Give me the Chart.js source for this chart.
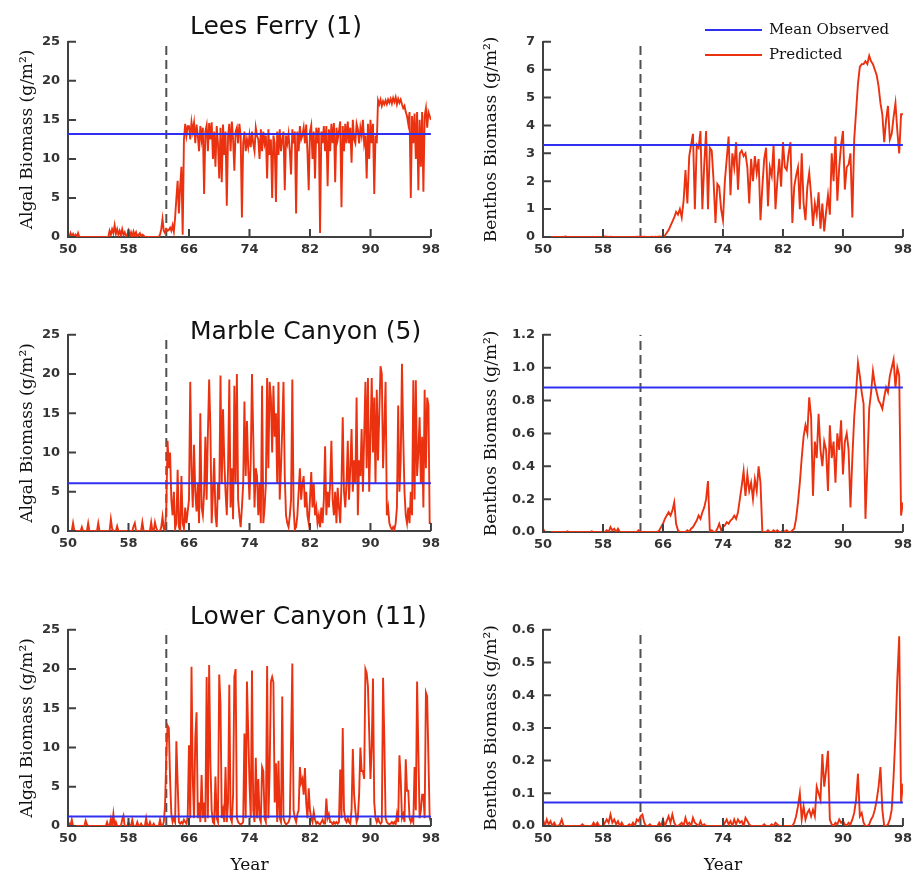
<!DOCTYPE html>
<html>
<head>
<meta charset="utf-8">
<title>Algal and benthos biomass</title>
<script src="https://cdn.jsdelivr.net/npm/chart.js@4.4.0/dist/chart.umd.min.js"></script>
<style>
  html, body { margin: 0; padding: 0; background: #fff; overflow: hidden; }
  #page { position: relative; width: 914px; height: 875px; overflow: hidden; }
  #page canvas { position: absolute; }
  .title { position: absolute; font: 25px 'DejaVu Sans', sans-serif; color: #111; white-space: nowrap; line-height: 1; }
  .swatch { position: absolute; left: 705px; width: 57px; height: 2px; }
  .legtext { position: absolute; left: 769px; font: 15px 'DejaVu Serif', serif; color: #111; white-space: nowrap; line-height: 1; }
</style>
</head>
<body>
<div id="page">
  <canvas id="c1"></canvas>
  <canvas id="c2"></canvas>
  <canvas id="c3"></canvas>
  <canvas id="c4"></canvas>
  <canvas id="c5"></canvas>
  <canvas id="c6"></canvas>
  <div class="title" style="left:190px; top:13px;">Lees Ferry (1)</div>
  <div class="title" style="left:190px; top:318px;">Marble Canyon (5)</div>
  <div class="title" style="left:190px; top:603px;">Lower Canyon (11)</div>
  <div class="swatch" style="top:29px; background:#3030f0;"></div>
  <div class="legtext" style="top:22px;">Mean Observed</div>
  <div class="swatch" style="top:54px; background:#eb3210;"></div>
  <div class="legtext" style="top:47px;">Predicted</div>
</div>
<script>
// year ticks and dam closure
const xTicks = [50, 58, 66, 74, 82, 90, 98];
const damYear = 63;

const algalTicks = [0, 5, 10, 15, 20, 25];
const leesBenthosTicks = [0, 1, 2, 3, 4, 5, 6, 7];
const marbleBenthosTicks = [0, 0.2, 0.4, 0.6, 0.8, 1.0, 1.2];
const lowerBenthosTicks = [0, 0.1, 0.2, 0.3, 0.4, 0.5, 0.6];

// mean observed biomass per site
const leesAlgalMean = 13.2;
const leesBenthosMean = 3.3;
const marbleAlgalMean = 6.1;
const marbleBenthosMean = 0.88;
const lowerAlgalMean = 1.2;
const lowerBenthosMean = 0.072;

// predicted algal biomass, 6 samples per year, 1950 -> 1998
const leesAlgal = [
  0.3, 0, 0.5, 0.1, 0.4, 0,
  0.3, 0, 0.5, 0, 0, 0,
  0, 0, 0, 0, 0, 0,
  0, 0, 0, 0, 0, 0,
  0, 0, 0, 0, 0, 0,
  0, 0, 0, 0.8, 0.3, 1.0,
  0.5, 1.5, 0.4, 1.0, 0.3, 0.8,
  0.2, 1.0, 0.3, 0.6, 0, 0.3,
  0.8, 0.1, 0.6, 0, 0.7, 0.2,
  0.6, 0, 0.3, 0.5, 0, 0.3,
  0.2, 0, 0, 0, 0, 0,
  0, 0, 0, 0, 0, 0,
  0, 0.3, 1.0, 2.3, 0.8, 0.5,
  1.0, 0.8, 0.9, 1.2, 0.8, 1.5,
  0.7, 2.5, 5.0, 7.2, 3.0, 6.5,
  9.0, 0.3, 12.5, 14.5, 13, 14.2,
  14.2, 12.5, 14.7, 13.5, 14.6, 12,
  14.4, 13, 11, 14.2, 12.5, 14,
  5.5, 13.5, 14.3, 11, 14.6, 12.5,
  14.7, 10, 13.5, 9, 14.2, 12,
  7.5, 14, 7, 14.4, 10.5, 13.5,
  4, 13, 14.5, 11, 14.8, 12.5,
  8.5, 13.5, 14, 12, 14.5, 13,
  2.5, 12, 13.5, 11, 12.5, 11.5,
  13, 11.5, 13.5, 12, 11, 14,
  13, 12.5, 10, 13.8, 11, 13.5,
  12, 13, 7.5, 13.8, 10.5, 12.5,
  5, 13, 12, 4.5, 13.5, 10.5,
  13.8, 11, 12.5, 13.5, 6, 13,
  12, 13.2, 11, 8, 13.8, 12,
  13.5, 3, 13.5, 11, 14.2, 12.5,
  13, 14, 12, 14.4, 11, 6,
  13.5, 14.3, 10, 13.5, 7.5, 14,
  12, 14, 0.5, 13.5, 12, 14.2,
  11, 14.2, 6.5, 13.8, 11, 14.5,
  12, 14.6, 7, 14, 12.5, 13.5,
  14.8, 3.8, 14.2, 11, 14.5, 12,
  14.8, 12, 14, 9.5, 15, 12.5,
  12, 14.5, 13.8, 12, 14, 13,
  15, 12, 13, 7.5, 14.5, 10,
  15, 12, 14.5, 5.5, 13, 12,
  17.5, 17, 17.6, 16.8, 17.4, 17,
  17.5, 17, 17.6, 17.2, 17.7, 17.1,
  17.8, 17.3, 17.9, 17, 17.7, 17.2,
  17.6, 17, 16.5, 16.8, 16, 15.5,
  14.5, 16, 5, 15.5, 12, 15.8,
  10, 16, 6, 15, 9, 16,
  5.8, 15.5, 16.5, 14, 16, 15.5,
  15
];

const marbleAlgal = [
  0, 0, 0, 0, 1.0, 0,
  0, 0, 0, 0, 0, 0.5,
  0, 0, 0, 0, 1.0, 0,
  0, 0, 0, 0, 0, 0,
  1.0, 0, 0, 0, 0, 0,
  0, 0, 0, 0, 1.5, 0.3,
  0, 0, 0, 0.6, 0, 0,
  0, 0, 0, 0, 0, 0,
  0, 0, 0, 0, 0.6, 1.0,
  0, 0, 0, 0, 0, 1.1,
  0, 0, 0, 0, 0, 0,
  1.1, 0, 0, 1.1, 0.4, 0,
  0, 0, 0.5, 1.8, 0.3, 0,
  3, 11.5, 8, 10, 4, 2,
  5, 0.3, 1, 7.8, 0.5, 0,
  7, 1, 0.3, 3, 1, 2.5,
  4, 19, 8, 3, 11, 5,
  2.5, 6, 1, 15, 3, 2,
  5, 12, 4, 12.5, 19.3, 13,
  1, 5, 9.3, 2, 0.5, 6,
  4, 19.8, 6, 15.5, 9, 5,
  2, 8, 19.3, 3, 8, 1.5,
  18.5, 6, 20, 4, 2, 0.5,
  3, 6, 16.5, 7, 14, 8,
  4, 9, 20, 12, 3, 8,
  7, 2, 6, 1, 18.5, 1,
  3, 6, 19.5, 8, 19, 17,
  10, 18.5, 12, 15, 6, 19,
  4, 8, 13, 19, 7, 2,
  1, 0.5, 2, 4, 19.3, 3,
  0.2, 0.5, 2, 5, 8, 4,
  6, 7, 3, 5, 2, 1,
  4, 7.5, 3, 6, 2, 3,
  1, 2, 0.5, 3, 1, 4,
  10.8, 2, 5, 3, 6, 11.5,
  4, 2, 5, 1, 5.5, 3,
  1, 6, 14.5, 5, 3, 6,
  11.5, 4, 8, 13, 5, 9,
  6, 17, 2, 9, 7, 13,
  5, 12, 19, 8, 19.5, 5,
  12, 19.5, 10, 17, 6, 18,
  9, 15, 21, 20, 8, 13,
  19, 2, 3, 1, 0.5, 0.2,
  0.5, 0.2, 1, 3, 16, 5,
  9, 21.3, 12, 5, 2, 1,
  3, 1, 5, 2, 19.2, 4,
  19.2, 7, 10, 14.5, 6, 12,
  3, 18, 8, 17, 16, 1,
  1
];

const lowerAlgal = [
  0, 0.3, 0, 0.8, 0, 0,
  0, 0, 0, 0, 0, 0,
  0, 0, 0.7, 0.2, 0, 0,
  0, 0, 0, 0, 0, 0,
  0, 0, 0, 0, 0, 0,
  0, 0.5, 0, 0, 0.9, 0,
  1.5, 0, 0.5, 0, 0, 0,
  0, 0.8, 1.3, 0, 0, 0,
  0.5, 0, 0, 0.8, 0, 0,
  0, 0.5, 0, 0, 0.3, 0,
  0, 0, 1.0, 0, 0, 0.5,
  0, 0, 0.3, 0, 0, 0,
  0, 0.8, 0, 0, 0.5, 2.5,
  9, 12.8, 12.5, 6, 1.5, 0.5,
  1.0, 0.5, 10.8, 5.5, 0.5, 0.3,
  0.5, 0.3, 0.8, 0.5, 0.3, 1.2,
  10.3, 1, 20.3, 6, 1, 11.2,
  14.5, 1, 3, 0.5, 6.5, 1,
  3, 0.5, 19, 1, 20.5, 8,
  2, 0.5, 0.3, 6.3, 1, 0.5,
  19.3, 15.5, 1, 2, 0.5, 7.5,
  0.5, 3, 18, 1, 0.5, 4,
  19, 20, 1, 0.5, 0.3, 0.2,
  0.3, 0.5, 11.8, 1, 18.4, 12,
  5.5, 1, 19.8, 2, 0.5, 8.7,
  1, 6, 1, 0.5, 7.5, 7,
  1, 0.5, 20.4, 1, 7, 18.4,
  19, 18.3, 3, 8, 0.5, 8.3,
  1, 0.5, 16.5, 1, 0.5, 0.2,
  0.3, 0.5, 1, 10.5, 20.7, 2,
  1, 0.5, 1.5, 2, 7.5, 5.5,
  6, 4, 7.4, 3, 1, 4.8,
  2, 1, 0.5, 1.8, 0.8, 0.3,
  0.5, 0.3, 0.2, 0.5, 0.8, 0.3,
  0.3, 3.5, 1, 1.5, 0.5, 0.5,
  0.2, 0.5, 0.3, 0.5, 0.3, 0.5,
  7.2, 1, 12.5, 2, 0.8, 0.5,
  1, 0.5, 0.3, 2, 9.8, 4,
  2, 0.5, 1, 4, 10, 7,
  7, 6, 20, 19.5, 17.8, 12,
  6, 10, 18.8, 3, 1, 0.5,
  1, 0.5, 0.3, 0.5, 18.9, 11,
  1, 0.5, 0.3, 0.2, 0.3, 0.5,
  0.3, 0.5, 0.2, 1.5, 0.5, 9,
  6, 1, 1.5, 0.5, 8.5, 4.5,
  4.5, 1, 0.5, 1, 0.5, 7.5,
  2, 18.4, 9.5, 1, 2, 4,
  4, 1, 17, 16.5, 8.5, 1,
  0.5
];

// predicted benthos biomass, 4 samples per year, 1950 -> 1998
const leesBenthos = [
  0, 0, 0, 0,
  0, 0, 0, 0,
  0, 0, 0, 0,
  0.02, 0, 0, 0,
  0, 0, 0, 0,
  0, 0, 0, 0,
  0, 0, 0, 0,
  0, 0, 0, 0,
  0, 0.02, 0.01, 0,
  0.01, 0, 0, 0,
  0, 0, 0, 0,
  0, 0, 0, 0,
  0, 0, 0.01, 0,
  0.02, 0, 0.01, 0,
  0, 0, 0.01, 0,
  0.01, 0, 0.02, 0.01,
  0.02, 0.05, 0.15, 0.25,
  0.4, 0.55, 0.7, 0.9,
  0.8, 1.0, 0.7, 1.3,
  2.4, 1.2, 2.9, 3.3,
  3.7, 1.0, 3.3, 3.2,
  3.8, 1.0, 2.6, 3.8,
  1.0, 3.2, 3.1, 2.0,
  0.5, 1.9, 1.8, 1.0,
  0.6, 2.0, 2.8, 3.6,
  1.5, 3.0, 2.5, 3.4,
  1.7, 3.0, 3.1, 2.9,
  3.0, 2.5, 1.2, 2.8,
  2.0, 2.9, 2.3, 2.8,
  0.6, 1.8, 2.8, 3.2,
  1.1, 2.5, 2.2, 3.3,
  1.0, 2.0, 2.8, 1.8,
  3.4, 2.5, 2.4, 3.0,
  3.4, 0.5, 1.8, 2.2,
  2.5, 1.0, 3.0, 1.2,
  0.6, 1.8, 2.3, 1.5,
  0.4, 1.2, 0.8, 1.6,
  0.3, 1.2, 0.2, 0.9,
  1.5, 0.8, 3.0, 2.0,
  3.6, 1.3, 2.5, 3.3,
  3.8, 1.7, 2.5, 2.6,
  3.0, 0.7, 3.5, 4.5,
  5.5, 6.1, 6.2, 6.2,
  6.3, 6.2, 6.5, 6.3,
  6.2, 6.0, 5.8, 5.4,
  4.8, 4.4, 3.4, 4.2,
  4.7, 3.5, 3.7, 4.3,
  4.8, 3.8, 3.0, 4.4,
  4.4
];

const marbleBenthos = [
  0.02, 0, 0, 0,
  0, 0, 0, 0,
  0, 0, 0, 0,
  0, 0.005, 0, 0,
  0, 0, 0, 0,
  0, 0, 0, 0,
  0, 0, 0.005, 0,
  0, 0, 0, 0,
  0, 0, 0.01, 0,
  0.03, 0.01, 0.02, 0,
  0.02, 0, 0, 0,
  0, 0, 0, 0,
  0, 0, 0, 0.01,
  0, 0, 0, 0,
  0, 0, 0, 0,
  0, 0, 0.01, 0.03,
  0.05, 0.08, 0.1, 0.12,
  0.1, 0.13, 0.18, 0.05,
  0.01, 0, 0, 0,
  0, 0.01, 0, 0.02,
  0.03, 0.05, 0.07, 0.1,
  0.08, 0.12, 0.15, 0.2,
  0.31, 0, 0.01, 0,
  0, 0.02, 0.05, 0.01,
  0.03, 0.04, 0.06, 0.05,
  0.07, 0.08, 0.1, 0.08,
  0.12, 0.2, 0.28, 0.37,
  0.22, 0.35, 0.25, 0.3,
  0.2, 0.32, 0.25, 0.4,
  0.3, 0, 0, 0,
  0.01, 0, 0, 0.01,
  0, 0.01, 0, 0,
  0.01, 0, 0.01, 0,
  0, 0.01, 0.02, 0.08,
  0.18, 0.3, 0.45, 0.58,
  0.65, 0.6, 0.82, 0.7,
  0.22, 0.55, 0.45, 0.72,
  0.5, 0.4, 0.55, 0.5,
  0.25, 0.65, 0.45, 0.55,
  0.3, 0.6, 0.5, 0.68,
  0.35, 0.55, 0.6, 0.5,
  0.15, 0.45, 0.7, 0.85,
  1.03, 0.95, 0.85, 0.78,
  0.08, 0.4, 0.75, 0.85,
  0.98, 0.9, 0.85, 0.8,
  0.78, 0.75, 0.82, 0.88,
  0.85, 0.95, 1.0, 1.05,
  0.88, 1.0, 0.95, 0.1,
  0.18
];

const lowerBenthos = [
  0.02, 0, 0.02, 0.005,
  0.015, 0, 0.01, 0,
  0, 0.005, 0.02, 0,
  0, 0, 0, 0,
  0, 0, 0, 0,
  0, 0.005, 0, 0,
  0, 0, 0, 0.01,
  0, 0.01, 0, 0,
  0, 0.01, 0.02, 0.01,
  0.035, 0.01, 0.02, 0.005,
  0.015, 0, 0.01, 0,
  0, 0, 0.005, 0,
  0.01, 0, 0.02, 0.015,
  0.03, 0.035, 0.01, 0,
  0, 0.005, 0, 0,
  0, 0, 0.01, 0,
  0.02, 0, 0.015, 0.03,
  0.01, 0.035, 0.01, 0,
  0, 0.005, 0.01, 0,
  0.025, 0.005, 0.01, 0,
  0.025, 0.01, 0.005, 0,
  0.015, 0, 0.005, 0,
  0, 0, 0, 0,
  0, 0, 0, 0,
  0, 0.01, 0.02, 0.005,
  0.015, 0, 0.02, 0.005,
  0.02, 0.01, 0.015, 0,
  0.025, 0.015, 0.005, 0,
  0, 0, 0, 0,
  0, 0, 0.005, 0,
  0, 0, 0.005, 0,
  0.01, 0.005, 0, 0,
  0, 0, 0, 0,
  0, 0, 0.01, 0.03,
  0.06, 0.1, 0.02, 0.06,
  0.02, 0.04, 0.05, 0.03,
  0.05, 0.03, 0.12, 0.1,
  0.08, 0.22, 0.12, 0.17,
  0.23, 0.02, 0.005, 0,
  0.01, 0.005, 0.02, 0.01,
  0.015, 0.005, 0, 0.01,
  0.005, 0.02, 0.04, 0.08,
  0.16, 0.03, 0.04, 0.01,
  0, 0, 0.005, 0.02,
  0.03, 0.05, 0.08, 0.12,
  0.18, 0.05, 0, 0,
  0.005, 0.02, 0.05, 0.15,
  0.28, 0.45, 0.58, 0.07,
  0.13
];

const algalYears = leesAlgal.map((_, i) => 50 + i / 6);
const benthosYears = leesBenthos.map((_, i) => 50 + i / 4);

const axisColor = '#404040';
const tickFont = { family: 'DejaVu Sans', size: 13, weight: 'bold' };
const serifFont = { family: 'DejaVu Serif', size: 17 };

// short tick marks pointing into the plot
const innerTicks = {
    id: 'innerTicks',
    afterDraw(chart) {
        const { ctx, chartArea: a, scales: { x, y } } = chart;
        ctx.save();
        ctx.strokeStyle = axisColor;
        ctx.lineWidth = 2;
        ctx.beginPath();
        x.ticks.forEach(t => {
            const px = x.getPixelForValue(t.value);
            ctx.moveTo(px, a.bottom);
            ctx.lineTo(px, a.bottom - 8);
        });
        y.ticks.forEach(t => {
            const py = y.getPixelForValue(t.value);
            ctx.moveTo(a.left, py);
            ctx.lineTo(a.left + 8, py);
        });
        ctx.stroke();
        ctx.restore();
    }
};

const panels = [
    { id: 'c1', left: 0, top: 26, w: 445, h: 241, yW: 68, xH: 30, padR: 12, titlePad: 17,
      years: algalYears, values: leesAlgal, mean: leesAlgalMean, ticks: algalTicks, dec: 0, yTitle: 'Algal Biomass (g/m²)' },
    { id: 'c2', left: 457, top: 26, w: 460, h: 241, yW: 86, xH: 30, padR: 10, titlePad: 24,
      years: benthosYears, values: leesBenthos, mean: leesBenthosMean, ticks: leesBenthosTicks, dec: 0, yTitle: 'Benthos Biomass (g/m²)' },
    { id: 'c3', left: 0, top: 319, w: 445, h: 242, yW: 68, xH: 30, padR: 12, titlePad: 17,
      years: algalYears, values: marbleAlgal, mean: marbleAlgalMean, ticks: algalTicks, dec: 0, yTitle: 'Algal Biomass (g/m²)' },
    { id: 'c4', left: 457, top: 319, w: 460, h: 243, yW: 86, xH: 30, padR: 10, titlePad: 24,
      years: benthosYears, values: marbleBenthos, mean: marbleBenthosMean, ticks: marbleBenthosTicks, dec: 1, yTitle: 'Benthos Biomass (g/m²)' },
    { id: 'c5', left: 0, top: 614, w: 445, h: 274, yW: 68, xH: 62, padR: 12, titlePad: 17, xTitle: 'Year',
      years: algalYears, values: lowerAlgal, mean: lowerAlgalMean, ticks: algalTicks, dec: 0, yTitle: 'Algal Biomass (g/m²)' },
    { id: 'c6', left: 457, top: 614, w: 460, h: 274, yW: 86, xH: 62, padR: 10, titlePad: 24, xTitle: 'Year',
      years: benthosYears, values: lowerBenthos, mean: lowerBenthosMean, ticks: lowerBenthosTicks, dec: 1, yTitle: 'Benthos Biomass (g/m²)' }
];

panels.forEach(p => {
    const cv = document.getElementById(p.id);
    cv.width = p.w;
    cv.height = p.h;
    cv.style.left = p.left + 'px';
    cv.style.top = p.top + 'px';
    const yMax = p.ticks[p.ticks.length - 1];

    new Chart(cv, {
        type: 'line',
        data: {
            labels: p.years,
            datasets: [
                { data: [{ x: 50, y: p.mean }, { x: 98, y: p.mean }], borderColor: '#3030f0', borderWidth: 2, pointRadius: 0 },
                { data: p.values, borderColor: '#eb3210', borderWidth: 1.9, pointRadius: 0, tension: 0 },
                { data: [{ x: damYear, y: 0 }, { x: damYear, y: yMax }], borderColor: '#505050', borderWidth: 2, borderDash: [9, 5], pointRadius: 0 }
            ]
        },
        options: {
            responsive: false,
            animation: false,
            events: [],
            layout: { padding: { left: 0, right: p.padR, top: 7, bottom: 0 } },
            plugins: { legend: { display: false }, tooltip: { enabled: false } },
            scales: {
                x: {
                    type: 'linear', min: 50, max: 98,
                    afterBuildTicks: s => { s.ticks = xTicks.map(v => ({ value: v })); },
                    afterFit: s => { s.height = p.xH; },
                    grid: { display: false, drawTicks: false },
                    border: { color: axisColor, width: 2 },
                    ticks: { font: tickFont, color: '#333', padding: 5, maxRotation: 0, autoSkip: false },
                    title: p.xTitle
                        ? { display: true, text: p.xTitle, font: serifFont, color: '#111', padding: { top: 0, bottom: 12 } }
                        : { display: false }
                },
                y: {
                    min: 0, max: yMax,
                    afterBuildTicks: s => { s.ticks = p.ticks.map(v => ({ value: v })); },
                    afterFit: s => { s.width = p.yW; },
                    grid: { display: false, drawTicks: false },
                    border: { color: axisColor, width: 2 },
                    ticks: { font: tickFont, color: '#333', padding: 8, callback: v => v.toFixed(p.dec) },
                    title: { display: true, text: p.yTitle, font: serifFont, color: '#111', padding: { top: p.titlePad, bottom: 0 } }
                }
            }
        },
        plugins: [innerTicks]
    });
});
</script>
</body>
</html>
